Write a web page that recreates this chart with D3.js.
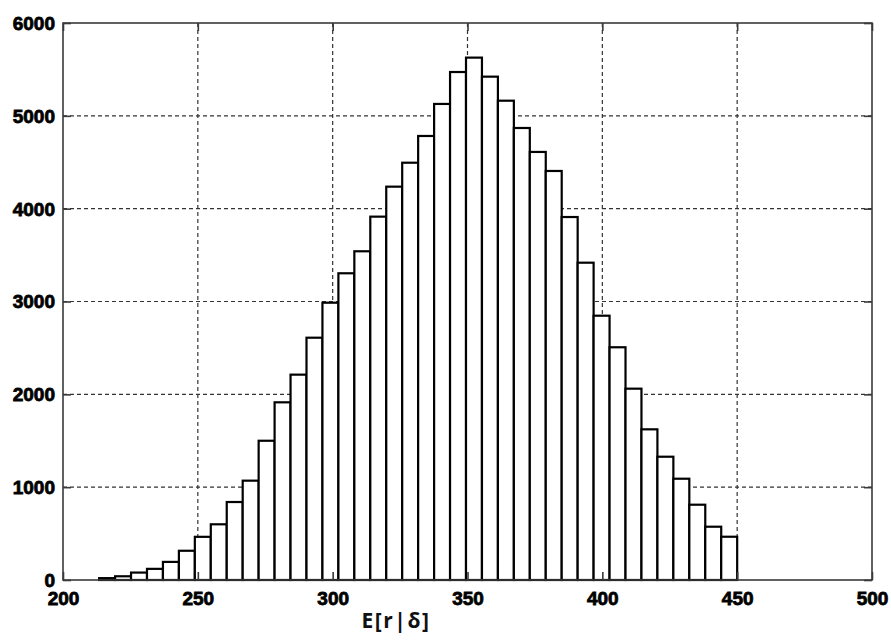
<!DOCTYPE html>
<html>
<head>
<meta charset="utf-8">
<script src="https://cdn.jsdelivr.net/npm/d3@7"></script>
<style>
  html, body { margin: 0; padding: 0; background: #fff; }
  svg { display: block; }
  .tick-label { font-family: "Liberation Sans", Arial, sans-serif; font-weight: bold; font-size: 19px; fill: #000; stroke: #000; stroke-width: 0.8px; }
  .x-title { font-family: "Open Sans", "Noto Sans", sans-serif; font-weight: bold; font-size: 21px; fill: #111; letter-spacing: 1.5px; }
</style>
</head>
<body>
<script>
// Histogram of E[r|δ]: 40 equal-width bins between binStart and binEnd
const binStart = 213.4;
const binEnd = 450;
const counts = [
  20, 40, 80, 120, 195, 315, 465, 600, 840, 1070,
  1500, 1914, 2212, 2610, 2987, 3304, 3541, 3914, 4237, 4495,
  4783, 5128, 5472, 5627, 5422, 5163, 4869, 4611, 4406, 3910,
  3418, 2847, 2507, 2061, 1623, 1328, 1091, 811, 574, 466
];
const xTicks = [200, 250, 300, 350, 400, 450, 500];
const yTicks = [0, 1000, 2000, 3000, 4000, 5000, 6000];
const xTitle = "E[r|δ]";

const W = 891, H = 643;
const plotL = 63, plotR = 872, plotT = 23, plotB = 580;

const svg = d3.select("body").append("svg")
  .attr("width", W).attr("height", H);

const x = d3.scaleLinear().domain([200, 500]).range([plotL, plotR]);
const y = d3.scaleLinear().domain([0, 6000]).range([plotB, plotT]);

const binW = (binEnd - binStart) / counts.length;
const bins = counts.map((c, i) => ({ x0: binStart + i * binW, x1: binStart + (i + 1) * binW, c }));

// dashed grid
const grid = svg.append("g").attr("stroke", "#333").attr("stroke-width", 1.2)
  .attr("stroke-dasharray", "4,3").attr("fill", "none");
grid.selectAll("line.v").data(xTicks.slice(1, -1)).join("line")
  .attr("x1", d => x(d)).attr("x2", d => x(d))
  .attr("y1", plotT).attr("y2", plotB);
grid.selectAll("line.h").data(yTicks.slice(1, -1)).join("line")
  .attr("x1", plotL).attr("x2", plotR)
  .attr("y1", d => y(d)).attr("y2", d => y(d));

// bars
svg.append("g").selectAll("rect").data(bins).join("rect")
  .attr("x", d => x(d.x0))
  .attr("y", d => y(d.c))
  .attr("width", d => x(d.x1) - x(d.x0))
  .attr("height", d => y(0) - y(d.c))
  .attr("fill", "#fff").attr("stroke", "#000").attr("stroke-width", 2.2);

// frame
svg.append("rect").attr("x", plotL).attr("y", plotT)
  .attr("width", plotR - plotL).attr("height", plotB - plotT)
  .attr("fill", "none").attr("stroke", "#3a3a3a").attr("stroke-width", 1.6);

// axes with inward ticks on all four sides
const tl = 8;
const fmt = d3.format("d");
const axB = d3.axisBottom(x).tickValues(xTicks).tickSize(-tl).tickPadding(11).tickFormat(fmt);
const axT = d3.axisTop(x).tickValues(xTicks).tickSize(-tl).tickFormat("");
const axL = d3.axisLeft(y).tickValues(yTicks).tickSize(-tl).tickPadding(8).tickFormat(fmt);
const axR = d3.axisRight(y).tickValues(yTicks).tickSize(-tl).tickFormat("");

function style(g) {
  g.select(".domain").remove();
  g.selectAll(".tick line").attr("stroke", "#3a3a3a").attr("stroke-width", 1.6);
  g.selectAll(".tick text").attr("class", "tick-label");
}
svg.append("g").attr("transform", `translate(0,${plotB})`).call(axB).call(style)
  .selectAll("text").attr("dy", "0.72em");
svg.append("g").attr("transform", `translate(0,${plotT})`).call(axT).call(style);
svg.append("g").attr("transform", `translate(${plotL},0)`).call(axL).call(style)
  .selectAll("text").attr("dy", "0.34em");
svg.append("g").attr("transform", `translate(${plotR},0)`).call(axR).call(style);

svg.append("text").attr("class", "x-title")
  .attr("x", 396).attr("y", 628).attr("text-anchor", "middle")
  .text(xTitle);
</script>
</body>
</html>
